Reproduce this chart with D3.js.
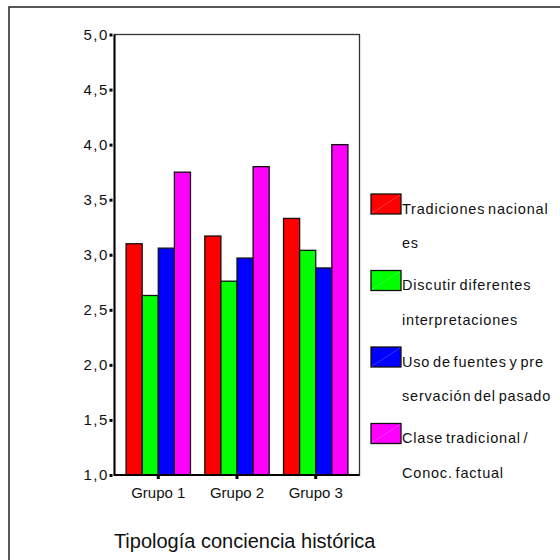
<!DOCTYPE html>
<html>
<head>
<meta charset="utf-8">
<script src="https://cdn.jsdelivr.net/npm/d3@7"></script>
<style>
  body { margin: 0; background: #fff; }
  text { font-family: "Liberation Sans", Arial, sans-serif; fill: #111; }
</style>
</head>
<body>
<svg id="chart" width="560" height="560"></svg>
<script>
// Mean scores per typology group, one array per series
const groups = ["Grupo 1", "Grupo 2", "Grupo 3"];
const tradiciones = [3.10, 3.17, 3.33];
const discutir = [2.63, 2.76, 3.04];
const fuentes = [3.06, 2.97, 2.88];
const clase = [3.75, 3.80, 4.00];
const seriesLabels = [
  ["Tradiciones nacional", "es"],
  ["Discutir diferentes", "interpretaciones"],
  ["Uso de fuentes y pre", "servación del pasado"],
  ["Clase tradicional /", "Conoc. factual"]
];
const yTicks = [1.0, 1.5, 2.0, 2.5, 3.0, 3.5, 4.0, 4.5, 5.0];
const xTitle = "Tipología conciencia histórica";

const seriesValues = [tradiciones, discutir, fuentes, clase];
const colors = ["#ff0000", "#00ff00", "#0000ff", "#ff00ff"];

const svg = d3.select("#chart");
const plot = { left: 114.5, top: 34.5, right: 359.5, bottom: 475 };

// Outer frame (runs off the right and bottom edges)
svg.append("rect")
  .attr("x", 9).attr("y", 7).attr("width", 600).attr("height", 600)
  .attr("fill", "none").attr("stroke", "#222").attr("stroke-width", 1.5);

const x = d3.scaleBand()
  .domain(groups)
  .range([plot.left, plot.right])
  .paddingInner(0.182)
  .paddingOuter(0.147);

const xInner = d3.scaleBand()
  .domain(d3.range(seriesValues.length))
  .range([0, x.bandwidth()]);

const y = d3.scaleLinear()
  .domain([1, 5])
  .range([plot.bottom, plot.top]);

// Plot area frame
svg.append("rect")
  .attr("x", plot.left).attr("y", plot.top)
  .attr("width", plot.right - plot.left).attr("height", plot.bottom - plot.top)
  .attr("fill", "#fff").attr("stroke", "#333").attr("stroke-width", 1.3);

// Bars
const rows = [];
groups.forEach((g, gi) => {
  seriesValues.forEach((vals, si) => rows.push({ g, si, v: vals[gi] }));
});

svg.append("g").selectAll("rect")
  .data(rows)
  .join("rect")
  .attr("x", d => x(d.g) + xInner(d.si))
  .attr("y", d => y(d.v))
  .attr("width", xInner.bandwidth())
  .attr("height", d => y(1) - y(d.v))
  .attr("fill", d => colors[d.si])
  .attr("stroke", "#111")
  .attr("stroke-width", 1.3);

// Heavier left and bottom axis lines
svg.append("line")
  .attr("x1", plot.left).attr("x2", plot.left)
  .attr("y1", plot.top).attr("y2", plot.bottom + 1)
  .attr("stroke", "#000").attr("stroke-width", 2);
svg.append("line")
  .attr("x1", plot.left).attr("x2", plot.right)
  .attr("y1", plot.bottom).attr("y2", plot.bottom)
  .attr("stroke", "#000").attr("stroke-width", 2);

// Y axis with square tick markers
const fmt = v => d3.format(".1f")(v).replace(".", ",");
const yAxis = svg.append("g")
  .attr("transform", `translate(${plot.left},0)`)
  .call(d3.axisLeft(y).tickValues(yTicks).tickFormat(fmt).tickSize(0).tickPadding(5.7));
yAxis.select(".domain").remove();
yAxis.selectAll(".tick text")
  .style("font-size", "15px")
  .style("letter-spacing", "1.5px")
  .style("font-family", "'Liberation Sans', Arial, sans-serif")
  .attr("fill", "#111");
yAxis.selectAll(".tick").append("rect")
  .attr("x", -5).attr("y", -1.5).attr("width", 3).attr("height", 3)
  .attr("fill", "#000");

// X axis with square tick markers
const xAxis = svg.append("g")
  .attr("transform", `translate(0,${plot.bottom})`)
  .call(d3.axisBottom(x).tickSize(0).tickPadding(12.5));
xAxis.select(".domain").remove();
xAxis.selectAll(".tick text")
  .style("font-size", "15px")
  .style("font-family", "'Liberation Sans', Arial, sans-serif")
  .attr("fill", "#111");
xAxis.selectAll(".tick").append("rect")
  .attr("x", -1.5).attr("y", 1).attr("width", 3).attr("height", 3)
  .attr("fill", "#000");

// Axis title
svg.append("text")
  .attr("x", 244.7).attr("y", 547.5)
  .attr("text-anchor", "middle")
  .style("font-size", "20px")
  .text(xTitle);

// Legend
const legend = svg.append("g");
const item = legend.selectAll("g")
  .data(seriesLabels)
  .join("g")
  .attr("transform", (d, i) => `translate(371,${194 + i * 76.5})`);

item.append("rect")
  .attr("width", 30).attr("height", 20)
  .attr("fill", (d, i) => colors[i])
  .attr("stroke", "#111").attr("stroke-width", 1.3);
item.append("line")
  .attr("x1", 1).attr("y1", 19).attr("x2", 29).attr("y2", 1)
  .attr("stroke", "#fff").attr("stroke-opacity", 0.35).attr("stroke-width", 0.6);

item.each(function(lines) {
  const t = d3.select(this);
  lines.forEach((line, k) => {
    t.append("text")
      .attr("x", 31).attr("y", 19.5 + k * 34.5)
      .style("font-size", "14.5px")
      .style("letter-spacing", "0.8px")
      .style("word-spacing", "-2px")
      .text(line);
  });
});
</script>
</body>
</html>
